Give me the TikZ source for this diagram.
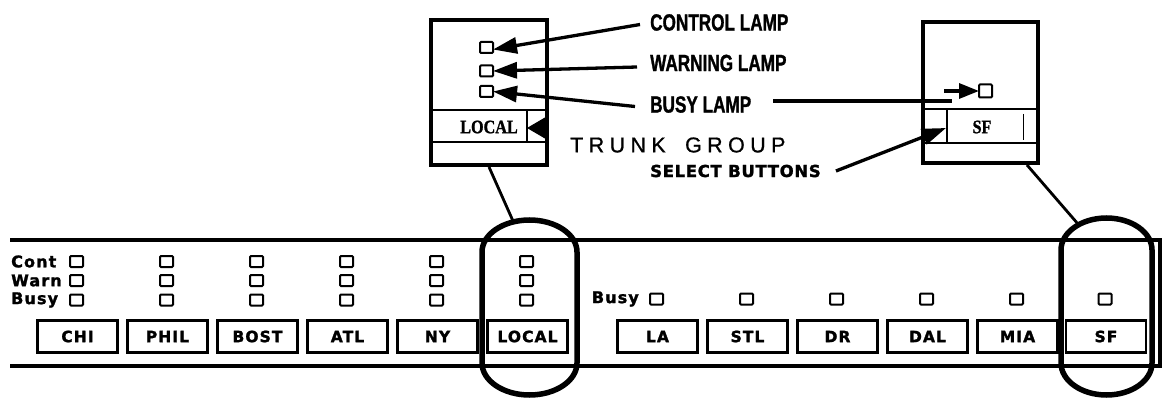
\documentclass[tikz,border=0pt]{standalone}
\usepackage{fontspec}
\usetikzlibrary{arrows.meta}
\newfontfamily\pfont[LetterSpace=7,FakeBold=1.6]{DejaVu Sans}
\newfontfamily\selfont[LetterSpace=4,FakeBold=1.6]{DejaVu Sans}
\newfontfamily\cfont[FakeStretch=0.73,FakeBold=1.2]{Liberation Sans}
\newfontfamily\tfont[LetterSpace=25,FakeBold=0.8]{Liberation Sans}
\newfontfamily\serfont[FakeStretch=0.85,FakeBold=1.2]{Liberation Serif}
\begin{document}
\begin{tikzpicture}[x=1pt,y=-1pt,
  lamp/.style={draw,line width=2pt,minimum width=13pt,minimum height=11pt,inner sep=0pt,outer sep=0pt,rounded corners=1pt},
  bigl/.style={lamp,minimum width=13pt,minimum height=11pt,line width=2pt},
  btn/.style={draw,line width=2.2pt,minimum width=80pt,minimum height=32pt,inner sep=0pt,font=\pfont\bfseries\fontsize{15.5pt}{15.5pt}\selectfont},
  lbl/.style={inner sep=0pt,font=\pfont\bfseries\fontsize{16pt}{16pt}\selectfont},
  call/.style={inner sep=0pt,anchor=west,font=\cfont\bfseries\fontsize{23.5pt}{23.5pt}\selectfont},
  cbox/.style={draw,line width=4pt,inner sep=0pt},
  ser/.style={inner sep=0pt,font=\serfont\bfseries\fontsize{19pt}{19pt}\selectfont},
  ptr/.style={line width=3.3pt,-{Triangle[length=24pt,width=16pt]}},
  frame/.style={line width=3.3pt},
  oval/.style={line width=5.5pt},
  thinl/.style={line width=2.4pt}]
\useasboundingbox (0,0) rectangle (1167,398);

% ---------- panel ----------
\draw[frame] (10,240) -- (1160,240) -- (1160,366) -- (10,366);

\foreach \n/\t/\x in {chi/CHI/77.5,phil/PHIL/167.5,bost/BOST/257.5,atl/ATL/347.5,ny/NY/437.5,local/LOCAL/527.5,
                      la/LA/657.5,stl/STL/747.5,dr/DR/837.5,dal/DAL/927.5,mia/MIA/1017.5,sf/SF/1106}
  \node[btn] (b\n) at (\x,336.5) {\t};

\foreach \n/\x in {chi/76.5,phil/166.5,bost/256.5,atl/346.5,ny/436.5,local/526.5}{
  \node[lamp] (c\n) at (\x,261.5) {};
  \node[lamp] (w\n) at (\x,280.5) {};
  \node[lamp] (u\n) at (\x,300) {};
}
\foreach \n/\x in {la/656.5,stl/746.5,dr/836.5,dal/926.5,mia/1016.5,sf/1105}
  \node[lamp] (u\n) at (\x,299) {};

\node[lbl,anchor=west] (tcont) at (11,261.5) {Cont};
\node[lbl,anchor=west] (twarn) at (11,280.5) {Warn};
\node[lbl,anchor=west] (tbusy) at (11,300) {Busy};
\node[lbl,anchor=east] (tbusy2) at (639,299) {Busy};

% ---------- ovals ----------
\draw[oval] (482,252) -- (482,363) arc[start angle=180,end angle=360,x radius=47.5pt,y radius=32pt]
  -- (577,252) arc[start angle=0,end angle=180,x radius=47.5pt,y radius=32pt] -- cycle;
\draw[oval] (1061,250) -- (1061,363) arc[start angle=180,end angle=360,x radius=45.5pt,y radius=32pt]
  -- (1152,250) arc[start angle=0,end angle=180,x radius=45.5pt,y radius=32pt] -- cycle;
\coordinate (ltop) at (513,221);
\coordinate (stop) at (1078,224);

% ---------- LOCAL callout ----------
\node[cbox,minimum width=116pt,minimum height=145pt] (lbox) at (489,92.5) {};
\draw[thinl] (lbox.west |- 0,110) -- (lbox.east |- 0,110);
\draw[thinl] (lbox.west |- 0,142) -- (lbox.east |- 0,142);
\draw[thinl] (527,110) -- (527,142);
\node[ser] (lloc) at (489,127) {LOCAL};
\node[bigl] (l1) at (486.5,47.5) {};
\node[bigl] (l2) at (486.5,71) {};
\node[bigl] (l3) at (486.5,91.5) {};
\coordinate (la1) at (548,128);
\coordinate (la2) at (527,128);
\draw[line width=1pt,-{Triangle[length=19pt,width=22pt]}] (la1) -- (la2);
\draw[line width=2.8pt] (lbox.south) -- (ltop);

% ---------- SF callout ----------
\node[cbox,minimum width=115pt,minimum height=141pt] (sbox) at (980.5,92.5) {};
\draw[thinl] (sbox.west |- 0,109) -- (sbox.east |- 0,109);
\draw[thinl] (sbox.west |- 0,143) -- (sbox.east |- 0,143);
\draw[thinl] (947,109) -- (947,143);
\draw[line width=0.8pt] (1023,114) -- (1023,140);
\node[ser] (ssf) at (982,127) {SF};
\node[bigl,minimum height=13pt] (sfl) at (985.5,91) {};
\draw[line width=2.8pt] ([xshift=-13pt]sbox.south east) -- (stop);

% ---------- labels and pointers ----------
\node[call] (tctl) at (650,22.5) {CONTROL LAMP};
\node[call] (twl) at (650,63) {WARNING LAMP};
\node[call] (tbl) at (650,104.5) {BUSY LAMP};
\draw[ptr] ([xshift=-10pt,yshift=-2pt]tctl.west) -- ([yshift=-2pt]l1.east);
\draw[ptr] ([xshift=-13pt,yshift=-4pt]twl.west) -- (l2.east);
\draw[ptr] ([xshift=-15pt,yshift=-2pt]tbl.west) -- (l3.east);

\coordinate (bl1) at (773,101);
\coordinate (bl2) at (952,101);
\coordinate (bl3) at (944,91);
\draw[line width=3.3pt] (bl1) -- (bl2);
\draw[line width=3.3pt,-{Triangle[length=20pt,width=15pt]}] (bl3) -- (sfl.west);

\node[inner sep=0pt,anchor=west,font=\tfont\fontsize{21.5pt}{21.5pt}\selectfont] (ttg) at (570,145) {TRUNK\hspace{8pt} GROUP};
\node[inner sep=0pt,anchor=west,font=\selfont\bfseries\fontsize{16.5pt}{16.5pt}\selectfont] (tsel) at (650,171) {SELECT BUTTONS};
\coordinate (sbtn) at (946,128);
\draw[ptr] ([xshift=15pt]tsel.east) -- (sbtn);
\end{tikzpicture}
\end{document}
